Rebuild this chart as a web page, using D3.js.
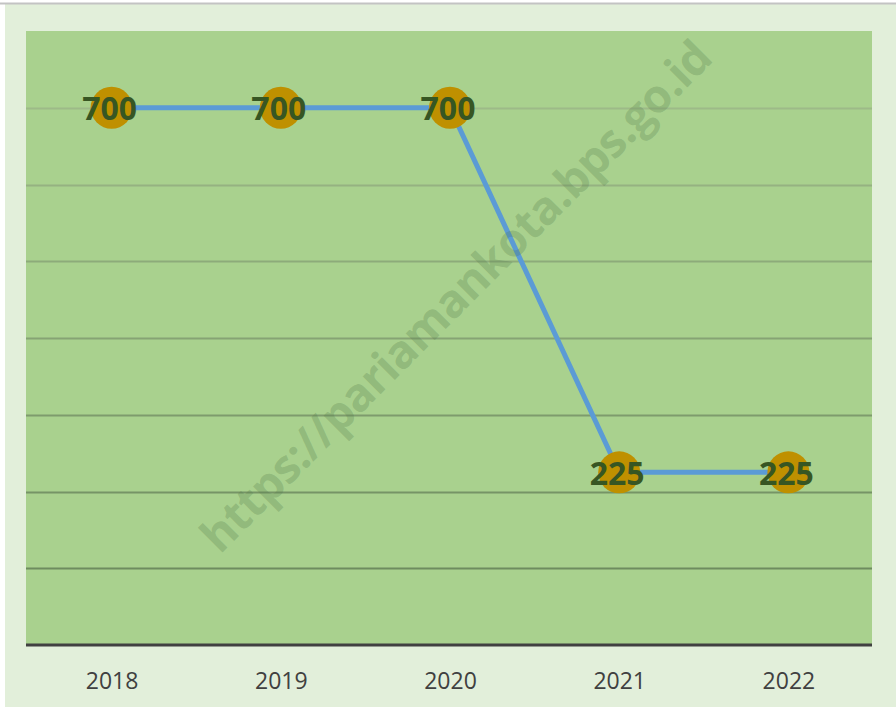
<!DOCTYPE html>
<html>
<head>
<meta charset="utf-8">
<script src="https://cdn.jsdelivr.net/npm/d3@7"></script>
<style>
  body { margin: 0; background: #ffffff; }
  svg { display: block; }
</style>
</head>
<body>
<div id="chart"></div>
<script>
const years = ['2018', '2019', '2020', '2021', '2022'];
const values = [700, 700, 700, 225, 225];
const yTicks = [100, 200, 300, 400, 500, 600, 700];

const W = 896, H = 707;
const plot = {left: 27, top: 31, right: 873, bottom: 645};

const svg = d3.select('#chart').append('svg')
    .attr('width', W)
    .attr('height', H);

// outer frame
svg.append('rect')
    .attr('x', 5).attr('y', 4)
    .attr('width', W - 5).attr('height', H - 4)
    .attr('fill', '#e2efda');
svg.append('line')
    .attr('x1', 0).attr('x2', W)
    .attr('y1', 3.5).attr('y2', 3.5)
    .attr('stroke', '#c3c3c3')
    .attr('stroke-width', 2);

// plot area
svg.append('rect')
    .attr('x', plot.left - 1).attr('y', plot.top)
    .attr('width', plot.right - plot.left)
    .attr('height', plot.bottom - plot.top)
    .attr('fill', '#a9d18e');

const x = d3.scalePoint()
    .domain(years)
    .range([plot.left, plot.right])
    .padding(0.5);

const y = d3.scaleLinear()
    .domain([0, 800])
    .range([plot.bottom, plot.top]);

// gridlines, darker toward the bottom
const gridColor = d3.scaleLinear()
    .domain([700, 100])
    .range(['#9dba88', '#6e8c5f']);

svg.append('g')
    .selectAll('line')
    .data(yTicks)
    .join('line')
    .attr('x1', plot.left - 1).attr('x2', plot.right - 1)
    .attr('y1', d => Math.round(y(d)) + 0.5)
    .attr('y2', d => Math.round(y(d)) + 0.5)
    .attr('stroke', d => gridColor(d))
    .attr('stroke-width', 2);

// x axis
const xAxis = svg.append('g')
    .attr('transform', `translate(0,${plot.bottom})`)
    .call(d3.axisBottom(x).tickSize(0).tickPadding(28));
xAxis.select('.domain')
    .attr('d', `M${plot.left - 1},0H${plot.right - 1}`)
    .attr('stroke', '#404040')
    .attr('stroke-width', 3);
xAxis.selectAll('text')
    .attr('font-family', '"Open Sans", sans-serif')
    .attr('font-size', 23)
    .attr('fill', '#404040');

// line
const points = years.map((yr, i) => ({year: yr, value: values[i]}));

svg.append('path')
    .datum(points)
    .attr('fill', 'none')
    .attr('stroke', '#5b9bd5')
    .attr('stroke-width', 5)
    .attr('d', d3.line().x(d => x(d.year)).y(d => y(d.value)));

// markers
svg.append('g')
    .selectAll('circle')
    .data(points)
    .join('circle')
    .attr('cx', d => x(d.year))
    .attr('cy', d => y(d.value))
    .attr('r', 21)
    .attr('fill', '#bf9000');

// value labels
svg.append('g')
    .selectAll('text')
    .data(points)
    .join('text')
    .attr('x', d => x(d.year) - 2)
    .attr('y', d => y(d.value) + 1)
    .attr('dy', '0.36em')
    .attr('text-anchor', 'middle')
    .attr('font-family', '"Open Sans", sans-serif')
    .attr('font-weight', 700)
    .attr('font-size', 32)
    .attr('fill', '#375623')
    .text(d => d.value);

// watermark
svg.append('text')
    .attr('transform', 'translate(456,296) rotate(-45)')
    .attr('text-anchor', 'middle')
    .attr('dy', '0.35em')
    .attr('font-family', '"Open Sans", sans-serif')
    .attr('font-weight', 700)
    .attr('font-size', 46)
    .attr('textLength', 700)
    .attr('fill', 'rgba(80,120,70,0.27)')
    .text('https://pariamankota.bps.go.id');
</script>
</body>
</html>
